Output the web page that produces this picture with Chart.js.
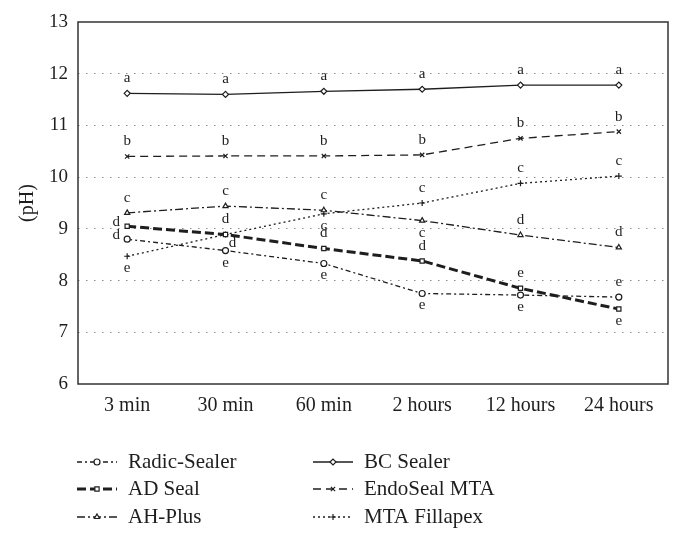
<!DOCTYPE html>
<html>
<head>
<meta charset="utf-8">
<script src="https://cdn.jsdelivr.net/npm/chart.js@4/dist/chart.umd.min.js"></script>
<style>
  html, body { margin: 0; padding: 0; background: #fff; }
  #wrap { width: 682px; height: 541px; }
</style>
</head>
<body>
<div id="wrap"><canvas id="chartPh" width="682" height="541"></canvas></div>
<script>
// pH over time
var categories = ['3 min', '30 min', '60 min', '2 hours', '12 hours', '24 hours'];
var yTicks = [6, 7, 8, 9, 10, 11, 12, 13];

var radicSealer = [8.80, 8.58, 8.33, 7.75, 7.72, 7.68];
var adSeal      = [9.05, 8.89, 8.62, 8.38, 7.85, 7.45];
var ahPlus      = [9.31, 9.44, 9.36, 9.16, 8.88, 8.64];
var bcSealer    = [11.62, 11.60, 11.66, 11.70, 11.78, 11.78];
var endoSealMTA = [10.40, 10.41, 10.41, 10.43, 10.75, 10.88];
var mtaFillapex = [8.47, 8.89, 9.29, 9.50, 9.88, 10.02];

// significance letters and where they sit
var radicLetters = ['d', 'e', 'e', 'e', 'e', 'e'];
var radicWhere   = ['left', 'below', 'below', 'below', 'below', 'above'];
var adLetters    = ['d', 'd', 'd', 'd', 'e', 'e'];
var adWhere      = ['left', 'above', 'above', 'above', 'above', 'below'];
var ahLetters    = ['c', 'c', 'c', 'c', 'd', 'd'];
var ahWhere      = ['above', 'above', 'above', 'below', 'above', 'above'];
var bcLetters    = ['a', 'a', 'a', 'a', 'a', 'a'];
var bcWhere      = ['above', 'above', 'above', 'above', 'above', 'above'];
var endoLetters  = ['b', 'b', 'b', 'b', 'b', 'b'];
var endoWhere    = ['above', 'above', 'above', 'above', 'above', 'above'];
var fillLetters  = ['e', 'd', 'c', 'c', 'c', 'c'];
var fillWhere    = ['below', 'right', 'below', 'above', 'above', 'above'];

var serif = '"Liberation Serif", "DejaVu Serif", serif';
var ink = '#1e1e1e';

function series(label, data, dash, width, style, letters, where, col, row) {
    return {
        label: label,
        data: data,
        borderColor: ink,
        backgroundColor: '#fff',
        borderWidth: width,
        borderDash: dash,
        pointStyle: style,
        pointRadius: 3,
        pointBorderWidth: 1.2,
        pointBackgroundColor: '#fff',
        pointBorderColor: ink,
        tension: 0,
        fill: false,
        letters: letters,
        where: where,
        legendCol: col,
        legendRow: row
    };
}

var letterPlugin = {
    id: 'letters',
    afterDatasetsDraw: function(chart) {
        var ctx = chart.ctx;
        ctx.save();
        ctx.font = '15px ' + serif;
        ctx.fillStyle = ink;
        ctx.textAlign = 'center';
        ctx.textBaseline = 'middle';
        chart.data.datasets.forEach(function(ds, i) {
            var meta = chart.getDatasetMeta(i);
            meta.data.forEach(function(pt, j) {
                var x = pt.x, y = pt.y;
                var w = ds.where[j];
                if (w === 'above') y -= 15;
                else if (w === 'below') y += 12;
                else if (w === 'left') { x -= 11; y -= 4; }
                else if (w === 'right') { x += 7; y += 9; }
                ctx.fillText(ds.letters[j], x, y);
            });
        });
        ctx.restore();
    }
};

var boxPlugin = {
    id: 'box',
    afterDraw: function(chart) {
        var a = chart.chartArea;
        var ctx = chart.ctx;
        ctx.save();
        ctx.strokeStyle = '#333';
        ctx.lineWidth = 1.5;
        ctx.setLineDash([]);
        ctx.strokeRect(a.left, a.top, a.right - a.left, a.bottom - a.top);
        ctx.restore();
    }
};

var legendPlugin = {
    id: 'sideLegend',
    afterDraw: function(chart) {
        var ctx = chart.ctx;
        var colX = [77, 313];
        var rowY = [462, 489, 517];
        ctx.save();
        chart.data.datasets.forEach(function(ds) {
            var x0 = colX[ds.legendCol], y = rowY[ds.legendRow];
            ctx.strokeStyle = ink;
            ctx.lineWidth = ds.borderWidth;
            ctx.setLineDash(ds.borderDash);
            ctx.beginPath();
            ctx.moveTo(x0, y);
            ctx.lineTo(x0 + 40, y);
            ctx.stroke();
            ctx.setLineDash([]);
            ctx.fillStyle = '#fff';
            ctx.lineWidth = 1.2;
            Chart.helpers.drawPoint(ctx, {
                pointStyle: ds.pointStyle, radius: 3, rotation: 0, borderWidth: 1.2
            }, x0 + 20, y);
            ctx.fillStyle = ink;
            ctx.font = '21px ' + serif;
            ctx.textAlign = 'left';
            ctx.textBaseline = 'middle';
            ctx.fillText(ds.label, x0 + 51, y);
        });
        ctx.restore();
    }
};

var ctx = document.getElementById('chartPh');
var myChart = new Chart(ctx, {
    type: 'line',
    data: {
        labels: categories,
        datasets: [
            series('Radic-Sealer', radicSealer, [5, 3, 2, 3], 1.3, 'circle', radicLetters, radicWhere, 0, 0),
            series('AD Seal', adSeal, [9, 4], 3, 'rect', adLetters, adWhere, 0, 1),
            series('AH-Plus', ahPlus, [8, 3, 2, 3], 1.3, 'triangle', ahLetters, ahWhere, 0, 2),
            series('BC Sealer', bcSealer, [], 1.3, 'rectRot', bcLetters, bcWhere, 1, 0),
            series('EndoSeal MTA', endoSealMTA, [8, 5], 1.3, 'crossRot', endoLetters, endoWhere, 1, 1),
            series('MTA Fillapex', mtaFillapex, [2, 3], 1.3, 'cross', fillLetters, fillWhere, 1, 2)
        ]
    },
    options: {
        responsive: false,
        animation: false,
        layout: { padding: { top: 22, right: 14, left: 0, bottom: 117 } },
        plugins: {
            legend: { display: false },
            tooltip: { enabled: false }
        },
        scales: {
            x: {
                offset: true,
                grid: { display: false, drawTicks: false },
                border: { display: false },
                ticks: { color: ink, font: { family: serif, size: 20 }, padding: 10 },
                afterFit: function(scale) { scale.height = 40; }
            },
            y: {
                min: 6,
                max: 13,
                afterBuildTicks: function(scale) {
                    scale.ticks = yTicks.map(function(v) { return { value: v }; });
                },
                grid: {
                    drawTicks: false,
                    lineWidth: 1,
                    color: function(c) {
                        var v = c.tick && c.tick.value;
                        return (v === 6 || v === 13) ? 'rgba(0,0,0,0)' : '#8a8a8a';
                    }
                },
                border: { display: false, dash: [1.5, 6.5] },
                ticks: { color: ink, font: { family: serif, size: 19 }, padding: 10 },
                title: {
                    display: true,
                    text: '(pH)',
                    color: ink,
                    font: { family: serif, size: 20 },
                    padding: { top: 16, bottom: 0 }
                },
                afterFit: function(scale) { scale.width = 78; }
            }
        }
    },
    plugins: [letterPlugin, boxPlugin, legendPlugin]
});
</script>
</body>
</html>
